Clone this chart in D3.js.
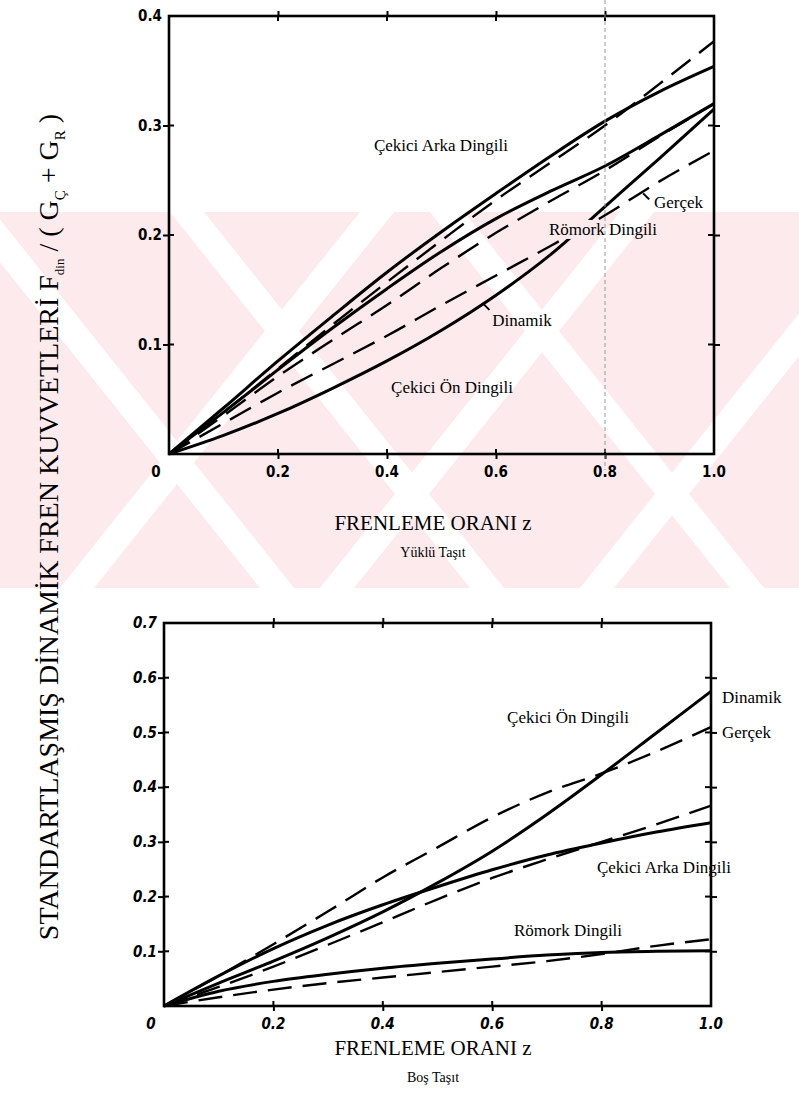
<!DOCTYPE html>
<html>
<head>
<meta charset="utf-8">
<script src="https://cdn.jsdelivr.net/npm/d3@7"></script>
<style>
  html, body { margin: 0; padding: 0; background: #ffffff; }
  svg { display: block; }
</style>
</head>
<body>
<svg id="chart" width="799" height="1109"></svg>
<script>
// Braking ratio z sampled every 0.1
const brakingRatio = [0, 0.1, 0.2, 0.3, 0.4, 0.5, 0.6, 0.7, 0.8, 0.9, 1.0];
const xTickValues = [0, 0.2, 0.4, 0.6, 0.8, 1.0];
const xTickLabels = ["0", "0.2", "0.4", "0.6", "0.8", "1.0"];

// Loaded vehicle (Yüklü Taşıt): solid = dynamic, dashed = actual
const loadedTractorRearDynamic = [0, 0.042, 0.085, 0.126, 0.166, 0.203, 0.238, 0.272, 0.304, 0.331, 0.354];
const loadedTractorRearActual  = [0, 0.038, 0.078, 0.118, 0.157, 0.195, 0.232, 0.266, 0.300, 0.338, 0.377];
const loadedTrailerDynamic     = [0, 0.038, 0.077, 0.115, 0.151, 0.185, 0.215, 0.240, 0.263, 0.291, 0.320];
const loadedTrailerActual      = [0, 0.035, 0.071, 0.104, 0.136, 0.170, 0.202, 0.231, 0.259, 0.290, 0.320];
const loadedTractorFrontDynamic = [0, 0.017, 0.037, 0.060, 0.085, 0.113, 0.145, 0.182, 0.226, 0.270, 0.315];
const loadedTractorFrontActual  = [0, 0.028, 0.056, 0.082, 0.108, 0.136, 0.163, 0.190, 0.218, 0.249, 0.277];
const loadedYTicks = [0.1, 0.2, 0.3, 0.4];
const loadedYLabels = ["0.1", "0.2", "0.3", "0.4"];

// Empty vehicle (Boş Taşıt)
const emptyTractorFrontDynamic = [0, 0.042, 0.082, 0.125, 0.172, 0.225, 0.283, 0.350, 0.423, 0.499, 0.575];
const emptyTractorFrontActual  = [0, 0.055, 0.113, 0.173, 0.235, 0.290, 0.345, 0.390, 0.425, 0.465, 0.510];
const emptyTractorRearDynamic  = [0, 0.055, 0.105, 0.148, 0.185, 0.218, 0.249, 0.276, 0.298, 0.318, 0.335];
const emptyTractorRearActual   = [0, 0.035, 0.072, 0.112, 0.153, 0.195, 0.234, 0.268, 0.300, 0.332, 0.366];
const emptyTrailerDynamic      = [0, 0.027, 0.045, 0.058, 0.069, 0.078, 0.086, 0.093, 0.098, 0.100, 0.101];
const emptyTrailerActual       = [0, 0.016, 0.030, 0.042, 0.052, 0.062, 0.072, 0.082, 0.095, 0.110, 0.122];
const emptyYTicks = [0.1, 0.2, 0.3, 0.4, 0.5, 0.6, 0.7];
const emptyYLabels = ["0.1", "0.2", "0.3", "0.4", "0.5", "0.6", "0.7"];

const svg = d3.select("#chart");
const defs = svg.append("defs");
const serif = "'Liberation Serif', 'DejaVu Serif', serif";
const narrow = "'Liberation Sans Narrow', 'DejaVu Sans Condensed', 'Liberation Sans', sans-serif";

// faint pink background band with diagonal light stripes
const wm = svg.append("g");
wm.append("rect").attr("x", 0).attr("y", 212).attr("width", 799).attr("height", 376).attr("fill", "#fdeaed");
defs.append("clipPath").attr("id", "wmclip")
  .append("rect").attr("x", 0).attr("y", 212).attr("width", 799).attr("height", 376);
const stripes = wm.append("g").attr("clip-path", "url(#wmclip)").attr("fill", "#ffffff");
[[-40, 1], [170, 1], [430, 1], [620, -1], [360, -1], [880, -1]].forEach(([x0, dir]) => {
  const w = 34;
  stripes.append("polygon").attr("points",
    `${x0},212 ${x0 + w},212 ${x0 + w + dir * 300},588 ${x0 + dir * 300},588`);
});

function drawPanel(cfg) {
  const x = d3.scaleLinear().domain([0, 1]).range([cfg.left, cfg.right]);
  const y = d3.scaleLinear().domain([0, cfg.yMax]).range([cfg.bottom, cfg.top]);
  const g = svg.append("g");

  // mask that keeps curves from running through some labels
  const maskId = cfg.id + "-mask";
  const mask = defs.append("mask").attr("id", maskId).attr("maskUnits", "userSpaceOnUse")
    .attr("x", 0).attr("y", 0).attr("width", 799).attr("height", 1109);
  mask.append("rect").attr("x", 0).attr("y", 0).attr("width", 799).attr("height", 1109).attr("fill", "#fff");

  const curves = g.append("g").attr("mask", `url(#${maskId})`);
  const line = d3.line()
    .x((d, i) => x(brakingRatio[i]))
    .y(d => y(d))
    .curve(d3.curveMonotoneX);

  cfg.series.forEach(s => {
    curves.append("path")
      .attr("d", line(s.values))
      .attr("fill", "none")
      .attr("stroke", "#000")
      .attr("stroke-width", s.dashed ? 2.4 : 3)
      .attr("stroke-dasharray", s.dashed ? "24,11" : null)
      .attr("stroke-linecap", "butt");
  });

  // frame
  g.append("rect")
    .attr("x", cfg.left).attr("y", cfg.top)
    .attr("width", cfg.right - cfg.left).attr("height", cfg.bottom - cfg.top)
    .attr("fill", "none").attr("stroke", "#000").attr("stroke-width", 2.6);

  // axes with crossing ticks
  const inner = [0.2, 0.4, 0.6, 0.8];
  const yInner = cfg.yTicks.filter(v => v < cfg.yMax);
  const topAxis = d3.axisTop(x).tickValues(inner).tickSize(5).tickFormat("");
  const botAxis = d3.axisBottom(x).tickValues(inner).tickSize(5).tickFormat("");
  const leftAxis = d3.axisLeft(y).tickValues(yInner).tickSize(6).tickFormat("");
  const rightAxis = d3.axisRight(y).tickValues(yInner).tickSize(6).tickFormat("");
  [[topAxis, `translate(0,${cfg.top})`], [botAxis, `translate(0,${cfg.bottom})`],
   [leftAxis, `translate(${cfg.left},0)`], [rightAxis, `translate(${cfg.right},0)`]].forEach(([ax, tr]) => {
    const a = g.append("g").attr("transform", tr).call(ax);
    a.select(".domain").remove();
    a.selectAll(".tick line").attr("stroke", "#000").attr("stroke-width", 2);
  });
  // ticks also reach inward
  inner.forEach(v => {
    g.append("line").attr("x1", x(v)).attr("x2", x(v)).attr("y1", cfg.top).attr("y2", cfg.top + 5).attr("stroke", "#000").attr("stroke-width", 2);
    g.append("line").attr("x1", x(v)).attr("x2", x(v)).attr("y1", cfg.bottom).attr("y2", cfg.bottom - 5).attr("stroke", "#000").attr("stroke-width", 2);
  });
  yInner.forEach(v => {
    g.append("line").attr("x1", cfg.left).attr("x2", cfg.left + 5).attr("y1", y(v)).attr("y2", y(v)).attr("stroke", "#000").attr("stroke-width", 2);
    g.append("line").attr("x1", cfg.right).attr("x2", cfg.right - 6).attr("y1", y(v)).attr("y2", y(v)).attr("stroke", "#000").attr("stroke-width", 2);
  });

  // tick labels
  const tl = g.append("g")
    .attr("font-family", narrow).attr("font-weight", "bold")
    .attr("font-size", 15).attr("font-style", cfg.italicTicks ? "italic" : "normal")
    .attr("fill", "#000");
  cfg.yTicks.forEach((v, i) => {
    tl.append("text").attr("x", cfg.left - 7).attr("y", y(v)).attr("dy", "0.35em")
      .attr("text-anchor", "end").text(cfg.yLabels[i]);
  });
  xTickValues.forEach((v, i) => {
    tl.append("text").attr("x", x(v) + (v === 0 ? -13 : 0)).attr("y", cfg.bottom + 23)
      .attr("text-anchor", "middle").text(xTickLabels[i]);
  });

  // axis title + subtitle
  g.append("text").attr("x", cfg.titleX).attr("y", cfg.titleY)
    .attr("text-anchor", "middle").attr("font-family", serif).attr("font-size", 21)
    .text("FRENLEME ORANI z");
  g.append("text").attr("x", cfg.titleX).attr("y", cfg.titleY + 27)
    .attr("text-anchor", "middle").attr("font-family", serif).attr("font-size", 14)
    .text(cfg.subtitle);

  // curve labels
  cfg.labels.forEach(l => {
    const t = g.append("text").attr("x", l.x).attr("y", l.y).attr("dy", "0.35em")
      .attr("font-family", serif).attr("font-size", 17).attr("text-anchor", l.anchor || "middle")
      .text(l.text);
    if (l.mask) {
      const b = t.node().getBBox();
      mask.append("rect").attr("x", b.x - 2).attr("y", b.y).attr("width", b.width + 4).attr("height", b.height)
        .attr("fill", "#000");
    }
  });

  // short pointer marks from labels to curves
  (cfg.pointers || []).forEach(p => {
    g.append("line").attr("x1", x(p.z)).attr("y1", y(p.v))
      .attr("x2", x(p.z) + p.dx).attr("y2", y(p.v) + p.dy)
      .attr("stroke", "#000").attr("stroke-width", 2);
  });
  return { x, y, g };
}

const loadedPanel = drawPanel({
  id: "loaded",
  left: 169, right: 714, top: 16, bottom: 454, yMax: 0.4,
  yTicks: loadedYTicks, yLabels: loadedYLabels, italicTicks: false,
  titleX: 433, titleY: 530, subtitle: "Yüklü Taşıt",
  series: [
    { values: loadedTractorRearDynamic },
    { values: loadedTractorRearActual, dashed: true },
    { values: loadedTrailerDynamic },
    { values: loadedTrailerActual, dashed: true },
    { values: loadedTractorFrontDynamic },
    { values: loadedTractorFrontActual, dashed: true }
  ],
  labels: [
    { text: "Çekici Arka Dingili", x: 441, y: 145 },
    { text: "Gerçek", x: 654, y: 202, anchor: "start" },
    { text: "Römork Dingili", x: 603, y: 229, mask: true },
    { text: "Dinamik", x: 522, y: 320 },
    { text: "Çekici Ön Dingili", x: 452, y: 387 }
  ],
  pointers: [
    { z: 0.87, v: 0.238, dx: 6, dy: 6 },
    { z: 0.575, v: 0.138, dx: 7, dy: 7 }
  ]
});

const emptyPanel = drawPanel({
  id: "empty",
  left: 164, right: 711, top: 623, bottom: 1006, yMax: 0.7,
  yTicks: emptyYTicks, yLabels: emptyYLabels, italicTicks: true,
  titleX: 433, titleY: 1055, subtitle: "Boş Taşıt",
  series: [
    { values: emptyTractorFrontDynamic },
    { values: emptyTractorFrontActual, dashed: true },
    { values: emptyTractorRearDynamic },
    { values: emptyTractorRearActual, dashed: true },
    { values: emptyTrailerDynamic },
    { values: emptyTrailerActual, dashed: true }
  ],
  labels: [
    { text: "Çekici Ön Dingili", x: 568, y: 717 },
    { text: "Dinamik", x: 722, y: 697, anchor: "start" },
    { text: "Gerçek", x: 722, y: 732, anchor: "start" },
    { text: "Çekici Arka Dingili", x: 664, y: 867 },
    { text: "Römork Dingili", x: 568, y: 930 }
  ]
});

// faint vertical scan line at z = 0.8 in the upper panel
svg.append("line").attr("x1", loadedPanel.x(0.8)).attr("x2", loadedPanel.x(0.8)).attr("y1", 0).attr("y2", 470)
  .attr("stroke", "#999").attr("stroke-width", 1).attr("stroke-dasharray", "4,3");

// shared vertical axis title
const yTitle = svg.append("text")
  .attr("transform", "translate(58,527) rotate(-90)")
  .attr("text-anchor", "middle")
  .attr("font-family", serif).attr("font-size", 28).attr("fill", "#000");
yTitle.append("tspan").text("STANDARTLAŞMIŞ DİNAMİK FREN KUVVETLERİ F");
yTitle.append("tspan").attr("font-size", 13).attr("dy", 6).text("din");
yTitle.append("tspan").attr("dy", -6).text("   / ( G");
yTitle.append("tspan").attr("font-size", 15).attr("dy", 7).text("Ç");
yTitle.append("tspan").attr("dy", -7).text(" + G");
yTitle.append("tspan").attr("font-size", 15).attr("dy", 7).text("R");
yTitle.append("tspan").attr("dy", -7).text(" )");
</script>
</body>
</html>
